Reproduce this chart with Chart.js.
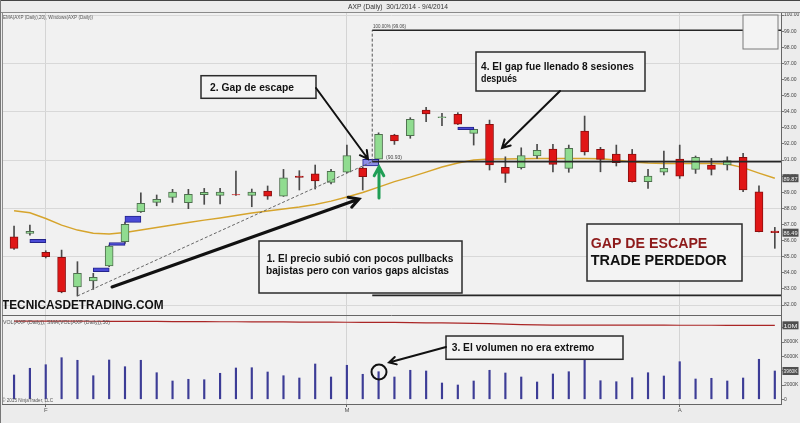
<!DOCTYPE html>
<html>
<head>
<meta charset="utf-8">
<script src="https://cdn.jsdelivr.net/npm/chart.js@4.4.1/dist/chart.umd.min.js"></script>
<style>
  html, body { margin: 0; padding: 0; background: #ececec; }
  #wrap { width: 800px; height: 423px; }
</style>
</head>
<body>
<div id="wrap"><canvas id="axp" width="800" height="423"></canvas></div>
<script>
// --- Data (AXP daily, 30/1/2014 - 9/4/2014) ---
const opens  = [86.24, 86.45, 85.27, 84.96, 83.13, 83.49, 84.42, 85.93, 87.79, 88.37,
                88.68, 88.35, 88.85, 88.81, 88.86, 88.81, 89.07, 88.76, 90.00, 90.15,
                89.61, 90.24, 90.50, 91.06, 92.55, 92.51, 94.10, 93.63, 93.84, 92.66,
                93.22, 90.55, 90.52, 91.25, 91.68, 90.48, 92.80, 91.66, 91.37, 91.37,
                89.65, 90.25, 91.06, 90.42, 90.69, 90.69, 91.17, 89.03, 86.59];
const highs  = [86.90, 86.96, 85.37, 85.41, 84.69, 83.97, 85.72, 87.15, 88.97, 88.83,
                89.18, 89.18, 89.24, 89.24, 90.32, 89.20, 89.39, 90.42, 90.34, 90.69,
                90.42, 91.93, 90.58, 92.69, 92.60, 93.63, 94.27, 93.90, 93.94, 92.92,
                93.48, 91.20, 91.76, 91.97, 91.97, 91.93, 93.73, 91.79, 91.93, 91.66,
                90.42, 91.56, 91.93, 91.25, 91.10, 91.20, 91.42, 89.40, 86.82];
const lows   = [85.45, 86.34, 84.92, 82.76, 82.56, 82.97, 84.38, 85.83, 87.75, 88.16,
                88.37, 87.98, 88.25, 88.27, 88.80, 88.10, 88.56, 88.74, 89.14, 89.20,
                89.51, 90.22, 89.14, 91.04, 91.97, 92.35, 93.38, 93.13, 93.20, 91.93,
                90.38, 89.61, 90.44, 91.10, 90.27, 90.24, 91.31, 90.27, 90.63, 89.63,
                89.24, 90.07, 89.86, 90.17, 90.07, 90.38, 89.03, 86.53, 85.52];
const closes = [85.52, 86.57, 85.00, 82.82, 83.97, 83.72, 85.66, 87.01, 88.31, 88.56,
                89.01, 88.87, 89.00, 89.01, 88.84, 89.01, 88.76, 89.90, 89.92, 89.71,
                90.30, 91.27, 89.96, 92.60, 92.18, 93.53, 93.87, 93.68, 93.22, 92.90,
                90.69, 90.17, 91.27, 91.60, 90.73, 91.73, 91.51, 91.04, 90.83, 89.65,
                90.00, 90.48, 90.00, 91.17, 90.42, 90.96, 89.14, 86.55, 86.49];
const ema20  = [87.85, 87.73, 87.37, 86.96, 86.65, 86.45, 86.41, 86.50, 86.65, 86.81,
                86.96, 87.12, 87.27, 87.40, 87.55, 87.71, 87.83, 87.96, 88.08, 88.24,
                88.45, 88.70, 88.98, 89.32, 89.66, 89.94, 90.25, 90.57, 90.81, 91.00,
                91.06, 91.06, 91.08, 91.09, 91.10, 91.10, 91.10, 91.08, 91.00, 90.88,
                90.81, 90.78, 90.78, 90.78, 90.78, 90.75, 90.53, 90.19, 89.87];
// volume in thousands of shares
const volumes = [3400, 4340, 4840, 5820, 5460, 3300, 5500, 4560, 5460, 3720,
                 2560, 2800, 2740, 3640, 4380, 4420, 3820, 3300, 2980, 4940,
                 3120, 4760, 3500, 3860, 3120, 4060, 3960, 2280, 2000, 2560,
                 4060, 3680, 3120, 2420, 3540, 3860, 5600, 2600, 2460, 3020,
                 3720, 3260, 5260, 2840, 2940, 2560, 2980, 5600, 3960];
const volumeAvg = [10950, 10950, 10950, 10940, 10930, 10920, 10910, 10900, 10900, 10890,
                   10880, 10870, 10860, 10850, 10850, 10840, 10830, 10820, 10810, 10800,
                   10790, 10780, 10770, 10760, 10750, 10720, 10700, 10680, 10660, 10630,
                   10580, 10520, 10460, 10410, 10390, 10380, 10380, 10380, 10370, 10370,
                   10370, 10370, 10360, 10360, 10360, 10350, 10350, 10350, 10350];

// price gaps ("Windows"), drawn between two sessions
const gapX     = [1.5, 5.5, 6.5, 7.5, 22.5, 28.5];
const gapLows  = [85.87, 84.07, 85.70, 87.13, 90.63, 92.88];
const gapHighs = [86.08, 84.31, 85.88, 87.52, 91.04, 93.05];
const escapeGap = 22.5;

// fibonacci / trend drawing
const fibStartX = 22.6;
const fibLevels = [99.06, 90.90, 82.60];
const trendFrom = [4, 82.56];

// axes
const monthTicks  = [2, 21, 42];
const monthLabels = ['F', 'M', 'A'];
const priceTicks  = [82, 83, 84, 85, 86, 87, 88, 89, 90, 91, 92, 93, 94, 95, 96, 97, 98, 99, 100];
const volumeTicks = [0, 2000, 4000, 6000, 8000, 10000];

const xMin = -0.76, xMax = 48.39;

// --- Helpers ---
const idx = closes.map((_, i) => i);
const isUp = i => closes[i] >= opens[i];
const volLabel = v => v === 0 ? '0' : (v >= 10000 ? Math.round(v / 1000) + 'M' : v + 'K');

function fitText(ctx, str, x, y, w, font, color) {
    ctx.save();
    ctx.font = font;
    ctx.fillStyle = color;
    ctx.textAlign = 'left';
    ctx.textBaseline = 'alphabetic';
    const m = ctx.measureText(str).width;
    ctx.translate(x, y);
    ctx.scale(w / m, 1);
    ctx.fillText(str, 0, 0);
    ctx.restore();
}

function arrow(ctx, x1, y1, x2, y2, color, lw, head) {
    const a = Math.atan2(y2 - y1, x2 - x1);
    ctx.save();
    ctx.strokeStyle = color;
    ctx.lineWidth = lw;
    ctx.lineCap = 'round';
    ctx.beginPath();
    ctx.moveTo(x1, y1);
    ctx.lineTo(x2, y2);
    ctx.moveTo(x2 - head * Math.cos(a - 0.5), y2 - head * Math.sin(a - 0.5));
    ctx.lineTo(x2, y2);
    ctx.lineTo(x2 - head * Math.cos(a + 0.5), y2 - head * Math.sin(a + 0.5));
    ctx.stroke();
    ctx.restore();
}

function box(ctx, x, y, w, h, stroke, lw, fill) {
    ctx.save();
    ctx.fillStyle = fill;
    ctx.fillRect(x, y, w, h);
    ctx.strokeStyle = stroke;
    ctx.lineWidth = lw;
    ctx.strokeRect(x, y, w, h);
    ctx.restore();
}

function axisTag(ctx, x, y, str) {
    ctx.save();
    ctx.fillStyle = '#4f4f4f';
    ctx.fillRect(x, y - 4, 16, 8);
    ctx.restore();
    fitText(ctx, str, x + 1, y + 2.5, 14, '6px "Liberation Sans"', '#f2f2f2');
}

// --- Overlay plugin: background, frame, notes ---
const overlay = {
    id: 'overlay',
    beforeDraw(chart) {
        const {ctx, chartArea: a} = chart;
        ctx.save();
        ctx.fillStyle = '#ececec';
        ctx.fillRect(0, 0, chart.width, chart.height);
        ctx.fillStyle = '#f1f1f1';
        ctx.fillRect(a.left, a.top, a.right - a.left, a.bottom - a.top);
        ctx.restore();
    },
    afterDatasetsDraw(chart) {
        const {ctx} = chart;
        // small "window" box top right
        box(ctx, 743, 15, 35, 34, '#7a7a7a', 1, '#f3f3f3');

        // pane labels
        fitText(ctx, 'EMA(AXP (Daily),20), Windows(AXP (Daily))', 3, 18.5, 90, '6px "Liberation Sans"', '#555');
        fitText(ctx, '100.00% (99.06)', 373, 28, 33, '5px "Liberation Sans"', '#444');
        fitText(ctx, '(90.93)', 386, 159, 16, '5px "Liberation Sans"', '#444');
        fitText(ctx, 'VOL(AXP (Daily)), SMA(VOL(AXP (Daily)),50)', 3, 324, 107, '5px "Liberation Sans"', '#555');
        fitText(ctx, '\u00a9 2015 NinjaTrader, LLC', 2, 402, 51, '5px "Liberation Sans"', '#555');

        const bold = s => 'bold ' + s + 'px "Liberation Sans"';

        // 2. Gap de escape
        box(ctx, 201, 75.7, 115, 22.6, '#2b2b2b', 1.5, '#f3f3f3');
        fitText(ctx, '2. Gap de escape', 210, 90.5, 84, bold(11), '#111');
        arrow(ctx, 316, 88, 368, 159, '#111', 2, 9);

        // 4. El gap fue llenado...
        box(ctx, 476, 52, 169, 39, '#2b2b2b', 1.5, '#f3f3f3');
        fitText(ctx, '4. El gap fue llenado 8 sesiones', 481, 69.5, 153, bold(11), '#111');
        fitText(ctx, 'después', 481, 81.5, 36, bold(11), '#111');
        arrow(ctx, 560, 91, 502, 148, '#111', 2, 9);

        // 1. El precio subió...
        box(ctx, 259, 241, 203, 52, '#2b2b2b', 1.5, '#f3f3f3');
        fitText(ctx, '1. El precio subió con pocos pullbacks', 266.7, 262.3, 186.6, bold(11), '#111');
        fitText(ctx, 'bajistas pero con varios gaps alcistas', 266, 274, 183, bold(11), '#111');
        arrow(ctx, 112, 287, 359, 199, '#111', 3, 11);

        // green up arrow under the escape gap
        arrow(ctx, 379, 198, 379, 167, '#1f9e55', 3, 10);

        // GAP DE ESCAPE / TRADE PERDEDOR
        box(ctx, 587, 224, 155, 57, '#2b2b2b', 1.5, '#f3f3f3');
        fitText(ctx, 'GAP DE ESCAPE', 590.7, 247.7, 116.6, bold(14.5), '#8e1b1b');
        fitText(ctx, 'TRADE PERDEDOR', 590.7, 265, 136, bold(14.5), '#111');

        // watermark
        fitText(ctx, 'TECNICASDETRADING.COM', 2, 309.3, 161.6, bold(12), '#111');

        // 3. El volumen no era extremo
        box(ctx, 446, 336, 177, 23.3, '#2b2b2b', 1.5, '#f3f3f3');
        fitText(ctx, '3. El volumen no era extremo', 451.7, 350.5, 142.6, bold(11), '#111');
        arrow(ctx, 446, 347, 389, 362.5, '#111', 2, 8);
        ctx.save();
        ctx.strokeStyle = '#111';
        ctx.lineWidth = 2;
        ctx.beginPath();
        ctx.arc(379, 372, 7.5, 0, Math.PI * 2);
        ctx.stroke();
        ctx.restore();
    },
    afterDraw(chart) {
        const {ctx, chartArea: a, scales} = chart;
        // title strip
        ctx.save();
        ctx.fillStyle = '#ececec';
        ctx.fillRect(0, 0, chart.width, a.top);
        ctx.strokeStyle = '#444';
        ctx.lineWidth = 1;
        ctx.beginPath();
        ctx.moveTo(0, 0.5); ctx.lineTo(chart.width, 0.5);
        ctx.stroke();
        ctx.strokeStyle = '#8a8a8a';
        ctx.beginPath();
        ctx.moveTo(0, a.top + 0.5); ctx.lineTo(chart.width, a.top + 0.5);
        ctx.moveTo(a.left + 0.5, a.top); ctx.lineTo(a.left + 0.5, a.bottom);
        ctx.stroke();
        ctx.strokeStyle = '#666';
        ctx.beginPath();
        const sep = Math.round(scales.y.bottom) + 0.5;
        ctx.moveTo(a.left, sep); ctx.lineTo(a.right, sep);
        ctx.stroke();
        ctx.strokeStyle = '#777';
        ctx.beginPath();
        ctx.moveTo(0.5, 0); ctx.lineTo(0.5, chart.height);
        ctx.stroke();
        ctx.restore();
        fitText(ctx, 'AXP (Daily)  30/1/2014 - 9/4/2014', 348, 9, 100, '8px "Liberation Sans"', '#333');

        // last value tags on the right axes
        const tx = a.right + 1.5;
        axisTag(ctx, tx, scales.y.getPixelForValue(ema20[ema20.length - 1]), ema20[ema20.length - 1].toFixed(2));
        axisTag(ctx, tx, scales.y.getPixelForValue(closes[closes.length - 1]), closes[closes.length - 1].toFixed(2));
        axisTag(ctx, tx, scales.yv.getPixelForValue(volumeAvg[volumeAvg.length - 1]), volLabel(volumeAvg[volumeAvg.length - 1]));
        axisTag(ctx, tx, scales.yv.getPixelForValue(volumes[volumes.length - 1]), volLabel(volumes[volumes.length - 1]));
    }
};

Chart.defaults.font.family = '"Liberation Sans", Arial, sans-serif';

const lineAt = (x0, y0, x1, y1) => [{x: x0, y: y0}, {x: x1, y: y1}];

new Chart(document.getElementById('axp').getContext('2d'), {
    type: 'bar',
    data: {
        datasets: [
            // fib / trend lines on top
            { type: 'line', data: lineAt(fibStartX, fibLevels[0], xMax, fibLevels[0]), borderColor: '#262626', borderWidth: 1.6, pointRadius: 0, order: 0 },
            { type: 'line', data: lineAt(fibStartX, fibLevels[1], xMax, fibLevels[1]), borderColor: '#262626', borderWidth: 1.6, pointRadius: 0, order: 0 },
            { type: 'line', data: lineAt(fibStartX, fibLevels[2], xMax, fibLevels[2]), borderColor: '#262626', borderWidth: 1.6, pointRadius: 0, order: 0 },
            { type: 'line', data: lineAt(fibStartX, fibLevels[1], fibStartX, fibLevels[0]), borderColor: '#555', borderWidth: 1, borderDash: [3, 2], pointRadius: 0, order: 0 },
            { type: 'line', data: lineAt(trendFrom[0], trendFrom[1], fibStartX, fibLevels[1]), borderColor: '#666', borderWidth: 1, borderDash: [3, 2], pointRadius: 0, order: 0 },
            // gaps
            {
                data: gapX.map((x, k) => ({x: x, y: [gapLows[k], gapHighs[k]]})),
                barThickness: 16,
                backgroundColor: c => gapX[c.dataIndex] === escapeGap ? '#8c8ce6' : '#4a4ad6',
                borderColor: '#24248c', borderWidth: 1, borderSkipped: false, order: 1
            },
            // candle bodies
            {
                data: idx.map(i => ({x: i, y: [Math.min(opens[i], closes[i]), Math.max(opens[i], closes[i])]})),
                barThickness: 8,
                backgroundColor: c => isUp(c.dataIndex) ? '#90dc90' : '#e01616',
                borderColor: c => isUp(c.dataIndex) ? '#4f6f4f' : '#8a1010',
                borderWidth: 1, borderSkipped: false, order: 2
            },
            // wicks
            {
                data: idx.map(i => ({x: i, y: [lows[i], highs[i]]})),
                barThickness: 1, backgroundColor: '#4a4a4a', order: 3
            },
            // EMA 20
            { type: 'line', data: idx.map(i => ({x: i, y: ema20[i]})), borderColor: '#d6a42c', borderWidth: 1.5, pointRadius: 0, order: 4 },
            // volume
            {
                yAxisID: 'yv',
                data: idx.map(i => ({x: i, y: volumes[i]})),
                barThickness: 1.5, backgroundColor: '#3c3c96', order: 3
            },
            { type: 'line', yAxisID: 'yv', data: idx.map(i => ({x: i, y: volumeAvg[i]})), borderColor: '#aa2626', borderWidth: 1.2, pointRadius: 0, order: 2 }
        ]
    },
    options: {
        responsive: false,
        animation: false,
        devicePixelRatio: 1,
        layout: { padding: { left: 2, top: 12, right: 0, bottom: 0 } },
        datasets: { bar: { grouped: false } },
        plugins: { legend: { display: false }, tooltip: { enabled: false }, title: { display: false } },
        scales: {
            x: {
                type: 'linear', min: xMin, max: xMax, offset: false,
                afterBuildTicks: s => { s.ticks = monthTicks.map(v => ({value: v})); },
                afterFit: s => { s.height = 19; },
                ticks: {
                    callback: v => monthLabels[monthTicks.indexOf(v)] || '',
                    font: { size: 6 }, color: '#555', padding: 0, maxRotation: 0, autoSkip: false
                },
                grid: { offset: false, color: '#d4d4d4', tickLength: 3, tickColor: '#666' },
                border: { color: '#666' }
            },
            y: {
                type: 'linear', position: 'right', stack: 'panes', stackWeight: 303,
                min: 81.38, max: 100.19,
                afterBuildTicks: s => { s.ticks = priceTicks.map(v => ({value: v})); },
                afterFit: s => { s.width = 19; },
                ticks: { callback: v => v.toFixed(2), font: { size: 5 }, color: '#444', padding: 0, autoSkip: false },
                grid: {
                    color: c => (c.tick && c.tick.value % 3 === 1) ? '#d8d8d8' : 'rgba(0,0,0,0)',
                    tickColor: '#777', tickLength: 3
                },
                border: { color: '#666' }
            },
            yv: {
                type: 'linear', position: 'right', stack: 'panes', stackWeight: 89,
                min: -658, max: 11794,
                afterBuildTicks: s => { s.ticks = volumeTicks.map(v => ({value: v})); },
                afterFit: s => { s.width = 19; },
                ticks: { callback: v => volLabel(v), font: { size: 5 }, color: '#444', padding: 0, autoSkip: false },
                grid: { drawOnChartArea: false, tickColor: '#777', tickLength: 3 },
                border: { color: '#666' }
            }
        }
    },
    plugins: [overlay]
});
</script>
</body>
</html>
